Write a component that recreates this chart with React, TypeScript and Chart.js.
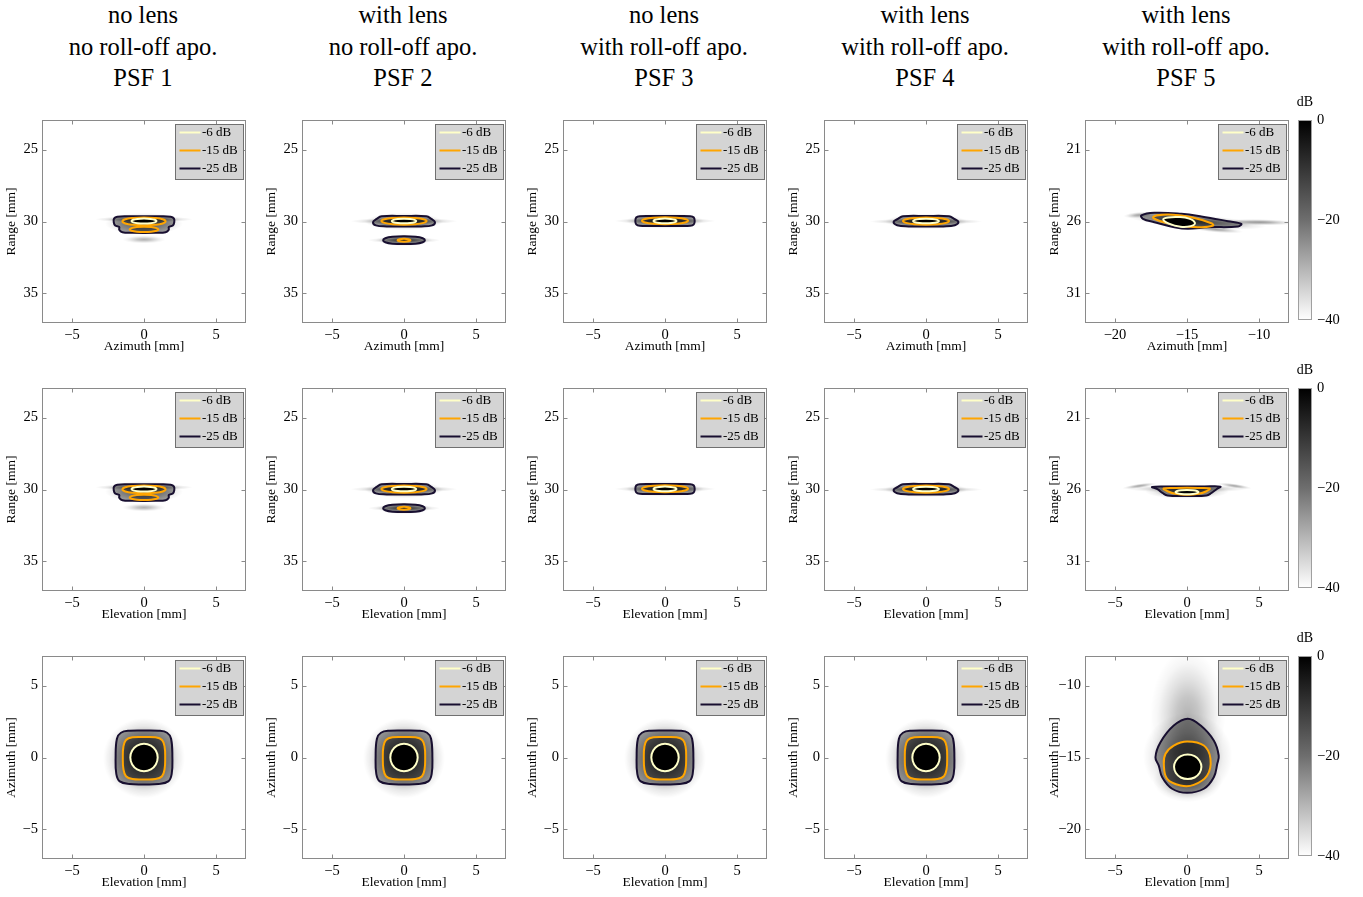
import React, { useEffect, useRef } from 'react';
import { Chart, registerables } from 'chart.js';

Chart.register(...registerables);

const FONT = '"Liberation Serif", "Times New Roman", Times, serif';

// column headings
const lensRow = ['no lens', 'with lens', 'no lens', 'with lens', 'with lens'];
const apoRow = ['no roll-off apo.', 'no roll-off apo.', 'with roll-off apo.', 'with roll-off apo.', 'with roll-off apo.'];
const psfRow = ['PSF 1', 'PSF 2', 'PSF 3', 'PSF 4', 'PSF 5'];

// contour levels
const levelLabels = ['-6 dB', '-15 dB', '-25 dB'];
const levelColors = ['#ffffc8', '#ffa500', '#180f30'];
const levelShades = ['#000000', 'rgba(0,0,0,0.42)', 'rgba(0,0,0,0.38)'];

// colour bar
const colorbarRange = [-40, 0];
const colorbarTicks = [-40, -20, 0];
const colorbarUnit = 'dB';

// axis windows [mm]
const sideX = [-7.08, 7.08];
const sideRangeY = [22.95, 37.05];
const psf5AzimuthX = [-22.08, -7.92];
const psf5RangeY = [18.95, 33.05];
const cscanY = [-7.05, 7.05];
const psf5CscanY = [-22.05, -7.95];

// tick values
const ticksPm5 = [-5, 0, 5];
const ticksRange = [25, 30, 35];
const ticksPsf5Az = [-20, -15, -10];
const ticksPsf5Range = [21, 26, 31];
const ticksPsf5Cscan = [-20, -15, -10];

// axis titles
const azimuthTitle = 'Azimuth [mm]';
const elevationTitle = 'Elevation [mm]';
const rangeTitle = 'Range [mm]';

// ---- PSF 1 (no lens, no roll-off) : contour vertices [x mm, y mm]
const psf1C6 = [[0, 29.8], [0.45, 29.82], [0.75, 29.88], [0.87, 29.97], [0.75, 30.06], [0.45, 30.12], [0, 30.14], [-0.45, 30.12], [-0.75, 30.06], [-0.87, 29.97], [-0.75, 29.88], [-0.45, 29.82]];
const psf1C15a = [[0, 29.72], [0.75, 29.75], [1.3, 29.84], [1.5, 29.99], [1.3, 30.14], [0.75, 30.23], [0, 30.26], [-0.75, 30.23], [-1.3, 30.14], [-1.5, 29.99], [-1.3, 29.84], [-0.75, 29.75]];
const psf1C15b = [[0, 30.37], [0.5, 30.39], [0.87, 30.46], [1.0, 30.55], [0.87, 30.64], [0.5, 30.71], [0, 30.73], [-0.5, 30.71], [-0.87, 30.64], [-1.0, 30.55], [-0.87, 30.46], [-0.5, 30.39]];
const psf1C25 = [[0, 29.63], [1.0, 29.64], [1.85, 29.67], [2.08, 29.8], [2.1, 30.05], [2.0, 30.28], [1.72, 30.38], [1.72, 30.58], [1.5, 30.75], [0.8, 30.79], [0, 30.8], [-0.8, 30.79], [-1.5, 30.75], [-1.72, 30.58], [-1.72, 30.38], [-2.0, 30.28], [-2.1, 30.05], [-2.08, 29.8], [-1.85, 29.67], [-1.0, 29.64]];
// haze blobs [x, y, rx, ry, peak opacity, tilt deg]
const hazePsf1 = [[0, 29.85, 3.4, 0.22, 0.55, 0], [0, 30.15, 2.7, 0.75, 0.5, 0], [0, 31.25, 1.5, 0.28, 0.3, 0]];

// ---- PSF 2 (with lens, no roll-off)
const psf2C6 = [[0, 29.81], [0.43, 29.83], [0.74, 29.89], [0.85, 29.97], [0.74, 30.05], [0.43, 30.11], [0, 30.13], [-0.43, 30.11], [-0.74, 30.05], [-0.85, 29.97], [-0.74, 29.89], [-0.43, 29.83]];
const psf2C15a = [[0, 29.72], [0.79, 29.75], [1.36, 29.845], [1.57, 29.97], [1.36, 30.095], [0.79, 30.19], [0, 30.22], [-0.79, 30.19], [-1.36, 30.095], [-1.57, 29.97], [-1.36, 29.845], [-0.79, 29.75]];
const psf2C15b = [[0, 31.2], [0.32, 31.23], [0.45, 31.3], [0.32, 31.37], [0, 31.4], [-0.32, 31.37], [-0.45, 31.3], [-0.32, 31.23]];
const psf2C25a = [[0, 29.62], [1.55, 29.64], [1.9, 29.82], [2.15, 30.04], [1.95, 30.27], [1.2, 30.34], [0, 30.35], [-1.2, 30.34], [-1.95, 30.27], [-2.15, 30.04], [-1.9, 29.82], [-1.55, 29.64]];
const psf2C25b = [[0, 31.03], [0.8, 31.06], [1.3, 31.16], [1.45, 31.3], [1.3, 31.44], [0.8, 31.54], [0, 31.57], [-0.8, 31.54], [-1.3, 31.44], [-1.45, 31.3], [-1.3, 31.16], [-0.8, 31.06]];
const hazePsf2 = [[0, 29.98, 3.7, 0.24, 0.55, 0], [0, 30.0, 2.7, 0.6, 0.5, 0], [0, 31.3, 2.5, 0.22, 0.45, 0], [0, 31.3, 1.8, 0.42, 0.35, 0]];

// ---- PSF 3 (no lens, with roll-off)
const psf3C6 = [[0, 29.8], [0.4, 29.82], [0.69, 29.88], [0.8, 29.96], [0.69, 30.04], [0.4, 30.1], [0, 30.12], [-0.4, 30.1], [-0.69, 30.04], [-0.8, 29.96], [-0.69, 29.88], [-0.4, 29.82]];
const psf3C15 = [[0, 29.71], [0.8, 29.74], [1.39, 29.83], [1.6, 29.95], [1.39, 30.07], [0.8, 30.16], [0, 30.19], [-0.8, 30.16], [-1.39, 30.07], [-1.6, 29.95], [-1.39, 29.83], [-0.8, 29.74]];
const psf3C25 = [[0, 29.61], [0.9, 29.615], [1.75, 29.63], [2.0, 29.72], [2.06, 29.96], [2.0, 30.2], [1.75, 30.3], [0.9, 30.315], [0, 30.32], [-0.9, 30.315], [-1.75, 30.3], [-2.0, 30.2], [-2.06, 29.96], [-2.0, 29.72], [-1.75, 29.63], [-0.9, 29.615]];
const hazePsf3 = [[0, 29.96, 3.5, 0.22, 0.55, 0], [0, 29.96, 2.7, 0.55, 0.5, 0]];

// ---- PSF 4 (with lens, with roll-off)
const psf4C6 = [[0, 29.81], [0.45, 29.83], [0.78, 29.89], [0.9, 29.97], [0.78, 30.05], [0.45, 30.11], [0, 30.13], [-0.45, 30.11], [-0.78, 30.05], [-0.9, 29.97], [-0.78, 29.89], [-0.45, 29.83]];
const psf4C15 = [[0, 29.72], [0.8, 29.75], [1.39, 29.845], [1.6, 29.97], [1.39, 30.095], [0.8, 30.19], [0, 30.22], [-0.8, 30.19], [-1.39, 30.095], [-1.6, 29.97], [-1.39, 29.845], [-0.8, 29.75]];
const psf4C25 = [[0, 29.62], [1.6, 29.64], [1.95, 29.82], [2.25, 30.03], [2.0, 30.26], [1.2, 30.34], [0, 30.35], [-1.2, 30.34], [-2.0, 30.26], [-2.25, 30.03], [-1.95, 29.82], [-1.6, 29.64]];
const hazePsf4 = [[0, 30.0, 3.9, 0.22, 0.55, 0], [0, 30.0, 2.8, 0.55, 0.5, 0]];

// ---- PSF 5, azimuth / range plane
const psf5AzC6 = [[-16.65, 25.85], [-16.3, 25.72], [-15.6, 25.69], [-14.85, 25.8], [-14.45, 26.1], [-14.75, 26.32], [-15.45, 26.36], [-16.25, 26.15]];
const psf5AzC15 = [[-17.36, 25.7], [-16.32, 25.51], [-14.7, 25.7], [-13.31, 26.12], [-13.19, 26.28], [-14.01, 26.4], [-15.4, 26.28], [-16.58, 26.05]];
const psf5AzC25 = [[-18.17, 25.58], [-17.27, 25.4], [-15.4, 25.47], [-14.01, 25.65], [-12.15, 25.98], [-11.23, 26.16], [-11.46, 26.35], [-13.54, 26.4], [-14.93, 26.51], [-15.88, 26.4], [-17.27, 26.05], [-18.06, 25.81]];
const hazePsf5Az = [[-14.3, 26.0, 4.8, 0.45, 0.55, 4], [-10.0, 26.05, 2.6, 0.22, 0.4, 1], [-18.3, 25.55, 1.1, 0.22, 0.35, -4], [-13.0, 26.55, 1.9, 0.22, 0.35, 5]];

// ---- PSF 5, elevation / range plane
const psf5ElC6 = [[0, 26.03], [0.4, 26.05], [0.69, 26.105], [0.8, 26.18], [0.69, 26.255], [0.4, 26.31], [0, 26.33], [-0.4, 26.31], [-0.69, 26.255], [-0.8, 26.18], [-0.69, 26.105], [-0.4, 26.05]];
const psf5ElC15 = [[-1.62, 25.93], [-0.8, 25.89], [0, 25.88], [0.8, 25.89], [1.58, 25.93], [1.35, 26.12], [0.8, 26.3], [0, 26.36], [-0.8, 26.3], [-1.35, 26.12]];
const psf5ElC25 = [[-2.42, 25.82], [-1.2, 25.79], [0, 25.79], [1.2, 25.79], [2.32, 25.8], [2.05, 25.98], [1.7, 26.24], [1.35, 26.42], [0, 26.45], [-1.35, 26.42], [-1.7, 26.24], [-2.05, 25.98]];
const hazePsf5El = [[0, 25.95, 4.2, 0.28, 0.45, 0], [-3.3, 25.75, 1.2, 0.16, 0.35, -8], [3.3, 25.75, 1.2, 0.16, 0.35, 8], [0, 26.15, 2.9, 0.5, 0.5, 0]];

// ---- C-scan (elevation / azimuth), PSF 1-4
const cscanC6 = [[0, 0.95], [0.48, 0.82], [0.82, 0.48], [0.95, 0], [0.82, -0.48], [0.48, -0.82], [0, -0.95], [-0.48, -0.82], [-0.82, -0.48], [-0.95, 0], [-0.82, 0.48], [-0.48, 0.82]];
const cscanC15 = [[0, 1.42], [0.8, 1.4], [1.25, 1.22], [1.43, 0.75], [1.47, 0], [1.43, -0.8], [1.25, -1.3], [0.8, -1.5], [0, -1.53], [-0.8, -1.5], [-1.25, -1.3], [-1.43, -0.8], [-1.47, 0], [-1.43, 0.75], [-1.25, 1.22], [-0.8, 1.4]];
const cscanC25 = [[0, 1.88], [1.0, 1.86], [1.6, 1.72], [1.88, 1.3], [1.97, 0], [1.92, -1.15], [1.68, -1.66], [1.0, -1.84], [0, -1.87], [-1.0, -1.84], [-1.68, -1.66], [-1.92, -1.15], [-1.97, 0], [-1.88, 1.3], [-1.6, 1.72], [-1.0, 1.86]];
const hazeCscan = [[0, -0.05, 2.85, 2.8, 0.6, 0], [0, -0.05, 2.7, 2.7, 0.2, 45]];

// ---- C-scan, PSF 5
const psf5CsC6 = [[0.05, -14.8], [0.53, -14.91], [0.87, -15.22], [1.0, -15.65], [0.87, -16.08], [0.53, -16.39], [0.05, -16.5], [-0.43, -16.39], [-0.77, -16.08], [-0.9, -15.65], [-0.77, -15.22], [-0.43, -14.91]];
const psf5CsC15 = [[0.01, -13.89], [1.17, -14.17], [1.63, -15.09], [1.4, -16.25], [0.47, -16.9], [-0.45, -16.94], [-1.38, -16.48], [-1.61, -15.44], [-1.49, -14.74], [-0.92, -14.17]];
const psf5CsC25 = [[0.05, -12.3], [0.95, -12.78], [1.86, -13.82], [2.2, -14.86], [2.1, -15.44], [1.86, -16.37], [1.17, -17.17], [0.01, -17.45], [-1.03, -17.17], [-1.72, -16.37], [-1.96, -15.56], [-2.19, -14.98], [-1.84, -13.94], [-0.92, -12.78]];
const hazePsf5Cs = [[0.05, -12.2, 2.6, 4.7, 0.3, 0], [0.05, -14.9, 3.1, 3.0, 0.5, 0], [0.05, -16.6, 2.4, 1.5, 0.4, 0]];

type Shape = { c6: number[][][]; c15: number[][][]; c25: number[][][]; haze: number[][] };

const shapePsf1: Shape = { c6: [psf1C6], c15: [psf1C15a, psf1C15b], c25: [psf1C25], haze: hazePsf1 };
const shapePsf2: Shape = { c6: [psf2C6], c15: [psf2C15a, psf2C15b], c25: [psf2C25a, psf2C25b], haze: hazePsf2 };
const shapePsf3: Shape = { c6: [psf3C6], c15: [psf3C15], c25: [psf3C25], haze: hazePsf3 };
const shapePsf4: Shape = { c6: [psf4C6], c15: [psf4C15], c25: [psf4C25], haze: hazePsf4 };
const shapePsf5Az: Shape = { c6: [psf5AzC6], c15: [psf5AzC15], c25: [psf5AzC25], haze: hazePsf5Az };
const shapePsf5El: Shape = { c6: [psf5ElC6], c15: [psf5ElC15], c25: [psf5ElC25], haze: hazePsf5El };
const shapeCscan: Shape = { c6: [cscanC6], c15: [cscanC15], c25: [cscanC25], haze: hazeCscan };
const shapePsf5Cs: Shape = { c6: [psf5CsC6], c15: [psf5CsC15], c25: [psf5CsC25], haze: hazePsf5Cs };

type PanelSpec = {
  shape: Shape; x: number[]; y: number[]; reverse: boolean;
  xTicks: number[]; yTicks: number[]; xTitle: string; yTitle: string;
};

const sidePanel = (shape: Shape, xTitle: string): PanelSpec => ({
  shape, x: sideX, y: sideRangeY, reverse: true, xTicks: ticksPm5, yTicks: ticksRange, xTitle, yTitle: rangeTitle,
});
const cscanPanel = (shape: Shape): PanelSpec => ({
  shape, x: sideX, y: cscanY, reverse: false, xTicks: ticksPm5, yTicks: ticksPm5, xTitle: elevationTitle, yTitle: azimuthTitle,
});

const panelRows: PanelSpec[][] = [
  [
    sidePanel(shapePsf1, azimuthTitle), sidePanel(shapePsf2, azimuthTitle), sidePanel(shapePsf3, azimuthTitle), sidePanel(shapePsf4, azimuthTitle),
    { shape: shapePsf5Az, x: psf5AzimuthX, y: psf5RangeY, reverse: true, xTicks: ticksPsf5Az, yTicks: ticksPsf5Range, xTitle: azimuthTitle, yTitle: rangeTitle },
  ],
  [
    sidePanel(shapePsf1, elevationTitle), sidePanel(shapePsf2, elevationTitle), sidePanel(shapePsf3, elevationTitle), sidePanel(shapePsf4, elevationTitle),
    { shape: shapePsf5El, x: sideX, y: psf5RangeY, reverse: true, xTicks: ticksPm5, yTicks: ticksPsf5Range, xTitle: elevationTitle, yTitle: rangeTitle },
  ],
  [
    cscanPanel(shapeCscan), cscanPanel(shapeCscan), cscanPanel(shapeCscan), cscanPanel(shapeCscan),
    { shape: shapePsf5Cs, x: sideX, y: psf5CscanY, reverse: false, xTicks: ticksPm5, yTicks: ticksPsf5Cscan, xTitle: elevationTitle, yTitle: azimuthTitle },
  ],
];

// page layout (px)
const plotLefts = [42, 302, 563, 824, 1085];
const plotTops = [120, 388, 656];
const PLOT_W = 204;
const PLOT_H = 203;
const Y_AXIS_W = 41;
const X_AXIS_H = 34;
const PAD_TOP = 10;
const PAD_RIGHT = 8;

const fmtTick = (v: number) => (v < 0 ? '\u2212' + Math.abs(v) : String(v));

// contour lines are closed loops: let the line element wrap its spline
const closedLoops = {
  id: 'closedLoops',
  afterDatasetUpdate(chart: any, args: any) {
    const line = args.meta.dataset;
    if (line) {
      line._loop = true;
      line._fullLoop = true;
    }
  },
};

const hazeLayer = (haze: number[][]) => ({
  id: 'hazeLayer',
  beforeDatasetsDraw(chart: any) {
    const { ctx, chartArea: a, scales } = chart;
    const xs = scales.x;
    const ys = scales.y;
    ctx.save();
    ctx.beginPath();
    ctx.rect(a.left, a.top, a.right - a.left, a.bottom - a.top);
    ctx.clip();
    for (const [bx, by, rx, ry, op, tilt] of haze) {
      const px = xs.getPixelForValue(bx);
      const py = ys.getPixelForValue(by);
      const sx = Math.abs(xs.getPixelForValue(bx + rx) - px);
      const sy = Math.abs(ys.getPixelForValue(by + ry) - py);
      ctx.save();
      ctx.translate(px, py);
      ctx.rotate((tilt * Math.PI) / 180);
      ctx.scale(sx, sy);
      const g = ctx.createRadialGradient(0, 0, 0, 0, 0, 1);
      g.addColorStop(0, `rgba(0,0,0,${op})`);
      g.addColorStop(0.3, `rgba(0,0,0,${op * 0.75})`);
      g.addColorStop(0.55, `rgba(0,0,0,${op * 0.4})`);
      g.addColorStop(0.8, `rgba(0,0,0,${op * 0.12})`);
      g.addColorStop(1, 'rgba(0,0,0,0)');
      ctx.fillStyle = g;
      ctx.beginPath();
      ctx.arc(0, 0, 1, 0, Math.PI * 2);
      ctx.fill();
      ctx.restore();
    }
    ctx.restore();
  },
});

const frameWithTicks = {
  id: 'frameWithTicks',
  afterDatasetsDraw(chart: any) {
    const { ctx, chartArea: a, scales } = chart;
    const L = Math.round(a.left) + 0.5;
    const R = Math.round(a.right) - 0.5;
    const T = Math.round(a.top) + 0.5;
    const B = Math.round(a.bottom) - 0.5;
    ctx.save();
    ctx.strokeStyle = '#8a8a8a';
    ctx.lineWidth = 1;
    ctx.strokeRect(L, T, R - L, B - T);
    ctx.beginPath();
    for (const t of scales.x.ticks) {
      const p = Math.round(scales.x.getPixelForValue(t.value)) + 0.5;
      ctx.moveTo(p, T); ctx.lineTo(p, T + 4);
      ctx.moveTo(p, B); ctx.lineTo(p, B - 4);
    }
    for (const t of scales.y.ticks) {
      const p = Math.round(scales.y.getPixelForValue(t.value)) + 0.5;
      ctx.moveTo(L, p); ctx.lineTo(L + 4, p);
      ctx.moveTo(R, p); ctx.lineTo(R - 4, p);
    }
    ctx.stroke();
    ctx.restore();
  },
};

const levelLegend = {
  id: 'levelLegend',
  afterDraw(chart: any) {
    const { ctx, chartArea: a } = chart;
    const w = 68;
    const h = 55;
    const x0 = Math.round(a.right - 3 - w) + 0.5;
    const y0 = Math.round(a.top + 4) + 0.5;
    ctx.save();
    ctx.fillStyle = '#d4d4d4';
    ctx.strokeStyle = '#707070';
    ctx.lineWidth = 1;
    ctx.fillRect(x0, y0, w, h);
    ctx.strokeRect(x0, y0, w, h);
    ctx.font = `13px ${FONT}`;
    ctx.textBaseline = 'middle';
    levelLabels.forEach((lab, i) => {
      const yy = y0 + 8 + 18 * i;
      ctx.strokeStyle = levelColors[i];
      ctx.lineWidth = 2;
      ctx.beginPath();
      ctx.moveTo(x0 + 4, yy);
      ctx.lineTo(x0 + 25, yy);
      ctx.stroke();
      ctx.fillStyle = '#000';
      ctx.fillText(lab, x0 + 26.5, yy + 0.5);
    });
    ctx.restore();
  },
};

function PsfPanel({ spec, left, top }: { spec: PanelSpec; left: number; top: number }) {
  const ref = useRef<HTMLCanvasElement>(null);
  const W = Y_AXIS_W + PLOT_W + PAD_RIGHT;
  const H = PAD_TOP + PLOT_H + X_AXIS_H;

  useEffect(() => {
    const groups = [spec.shape.c6, spec.shape.c15, spec.shape.c25];
    const datasets: any[] = [];
    groups.forEach((g, lvl) =>
      g.forEach((pts) =>
        datasets.push({
          label: levelLabels[lvl],
          data: pts.map(([x, y]) => ({ x, y })),
          borderColor: levelColors[lvl],
          backgroundColor: levelShades[lvl],
          borderWidth: 2,
          pointRadius: 0,
          tension: 0.4,
          fill: 'shape',
        })
      )
    );
    const tickFont = { family: FONT, size: 14.5 };
    const titleFont = { family: FONT, size: 13.5 };
    const chart = new Chart(ref.current as HTMLCanvasElement, {
      type: 'line',
      data: { datasets },
      options: {
        responsive: false,
        animation: false,
        events: [],
        layout: { padding: { top: PAD_TOP, right: PAD_RIGHT, left: 0, bottom: 0 } },
        plugins: { legend: { display: false }, tooltip: { enabled: false } },
        scales: {
          x: {
            type: 'linear',
            min: spec.x[0],
            max: spec.x[1],
            grid: { display: false, drawTicks: false },
            border: { display: false },
            ticks: { font: tickFont, color: '#000', padding: 3, maxRotation: 0, minRotation: 0, callback: (v: any) => fmtTick(Number(v)) },
            afterBuildTicks: (s: any) => { s.ticks = spec.xTicks.map((v) => ({ value: v })); },
            afterFit: (s: any) => { s.height = X_AXIS_H; s.paddingLeft = 0; s.paddingRight = 0; },
            title: { display: true, text: spec.xTitle, font: titleFont, color: '#000', padding: { top: 0, bottom: 2 } },
          },
          y: {
            type: 'linear',
            min: spec.y[0],
            max: spec.y[1],
            reverse: spec.reverse,
            grid: { display: false, drawTicks: false },
            border: { display: false },
            ticks: { font: tickFont, color: '#000', padding: 4, callback: (v: any) => fmtTick(Number(v)) },
            afterBuildTicks: (s: any) => { s.ticks = spec.yTicks.map((v) => ({ value: v })); },
            afterFit: (s: any) => { s.width = Y_AXIS_W; s.paddingTop = 0; s.paddingBottom = 0; },
            title: { display: true, text: spec.yTitle, font: titleFont, color: '#000', padding: { top: 2, bottom: 0 } },
          },
        },
      } as any,
      plugins: [closedLoops, hazeLayer(spec.shape.haze), frameWithTicks, levelLegend],
    });
    return () => chart.destroy();
  }, [spec]);

  return (
    <canvas
      ref={ref}
      width={W}
      height={H}
      style={{ position: 'absolute', left: left - Y_AXIS_W, top: top - PAD_TOP, width: W, height: H }}
    />
  );
}

const CB_PAD_LEFT = 8;
const CB_W = 14;
const CB_AXIS_W = 51;
const CB_PAD_TOP = 30;
const CB_PAD_BOTTOM = 13;
const CB_H = 200;

const colorbarFrame = {
  id: 'colorbarFrame',
  afterDraw(chart: any) {
    const { ctx, chartArea: a } = chart;
    ctx.save();
    ctx.strokeStyle = '#a0a0a0';
    ctx.lineWidth = 1;
    ctx.strokeRect(Math.round(a.left) + 0.5, Math.round(a.top) + 0.5, Math.round(a.right - a.left) - 1, Math.round(a.bottom - a.top) - 1);
    ctx.fillStyle = '#000';
    ctx.font = `14px ${FONT}`;
    ctx.textAlign = 'center';
    ctx.textBaseline = 'middle';
    ctx.fillText(colorbarUnit, (a.left + a.right) / 2, a.top - 18);
    ctx.restore();
  },
};

function Colorbar({ top }: { top: number }) {
  const ref = useRef<HTMLCanvasElement>(null);
  const W = CB_PAD_LEFT + CB_W + CB_AXIS_W;
  const H = CB_PAD_TOP + CB_H + CB_PAD_BOTTOM;
  useEffect(() => {
    const chart = new Chart(ref.current as HTMLCanvasElement, {
      type: 'bar',
      data: {
        labels: [colorbarUnit],
        datasets: [
          {
            data: [[colorbarRange[0], colorbarRange[1]]] as any,
            backgroundColor: (c: any) => {
              const ch = c.chart;
              const ys = ch.scales.y;
              if (!ch.chartArea || !ys) return '#808080';
              const g = ch.ctx.createLinearGradient(0, ys.getPixelForValue(colorbarRange[1]), 0, ys.getPixelForValue(colorbarRange[0]));
              g.addColorStop(0, '#000000');
              g.addColorStop(0.5, '#6e6e6e');
              g.addColorStop(1, '#ffffff');
              return g;
            },
            borderWidth: 0,
            barPercentage: 1,
            categoryPercentage: 1,
          },
        ],
      },
      options: {
        responsive: false,
        animation: false,
        events: [],
        layout: { padding: { left: CB_PAD_LEFT, top: CB_PAD_TOP, bottom: CB_PAD_BOTTOM, right: 0 } },
        plugins: { legend: { display: false }, tooltip: { enabled: false } },
        scales: {
          x: { display: false },
          y: {
            position: 'right',
            min: colorbarRange[0],
            max: colorbarRange[1],
            grid: { display: false, drawTicks: false },
            border: { display: false },
            ticks: { font: { family: FONT, size: 14.5 }, color: '#000', padding: 5, callback: (v: any) => fmtTick(Number(v)) },
            afterBuildTicks: (s: any) => { s.ticks = colorbarTicks.map((v) => ({ value: v })); },
            afterFit: (s: any) => { s.width = CB_AXIS_W; s.paddingTop = 0; s.paddingBottom = 0; },
          },
        },
      } as any,
      plugins: [colorbarFrame],
    });
    return () => chart.destroy();
  }, []);
  return (
    <canvas
      ref={ref}
      width={W}
      height={H}
      style={{ position: 'absolute', left: 1298 - CB_PAD_LEFT, top: top - CB_PAD_TOP, width: W, height: H }}
    />
  );
}

export default function App() {
  return (
    <div style={{ position: 'absolute', left: 0, top: 0, width: 1363, height: 897, background: '#fff', overflow: 'hidden' }}>
      {plotLefts.map((x, c) => (
        <div
          key={'head' + c}
          style={{
            position: 'absolute',
            left: x + PLOT_W / 2 - 121,
            top: -1,
            width: 240,
            textAlign: 'center',
            fontFamily: FONT,
            fontSize: 24.5,
            lineHeight: '31.5px',
            color: '#000',
            whiteSpace: 'nowrap',
          }}
        >
          <div>{lensRow[c]}</div>
          <div>{apoRow[c]}</div>
          <div>{psfRow[c]}</div>
        </div>
      ))}
      {panelRows.map((row, r) =>
        row.map((spec, c) => <PsfPanel key={`p${r}-${c}`} spec={spec} left={plotLefts[c]} top={plotTops[r]} />)
      )}
      {plotTops.map((t, r) => (
        <Colorbar key={'cb' + r} top={t} />
      ))}
    </div>
  );
}
